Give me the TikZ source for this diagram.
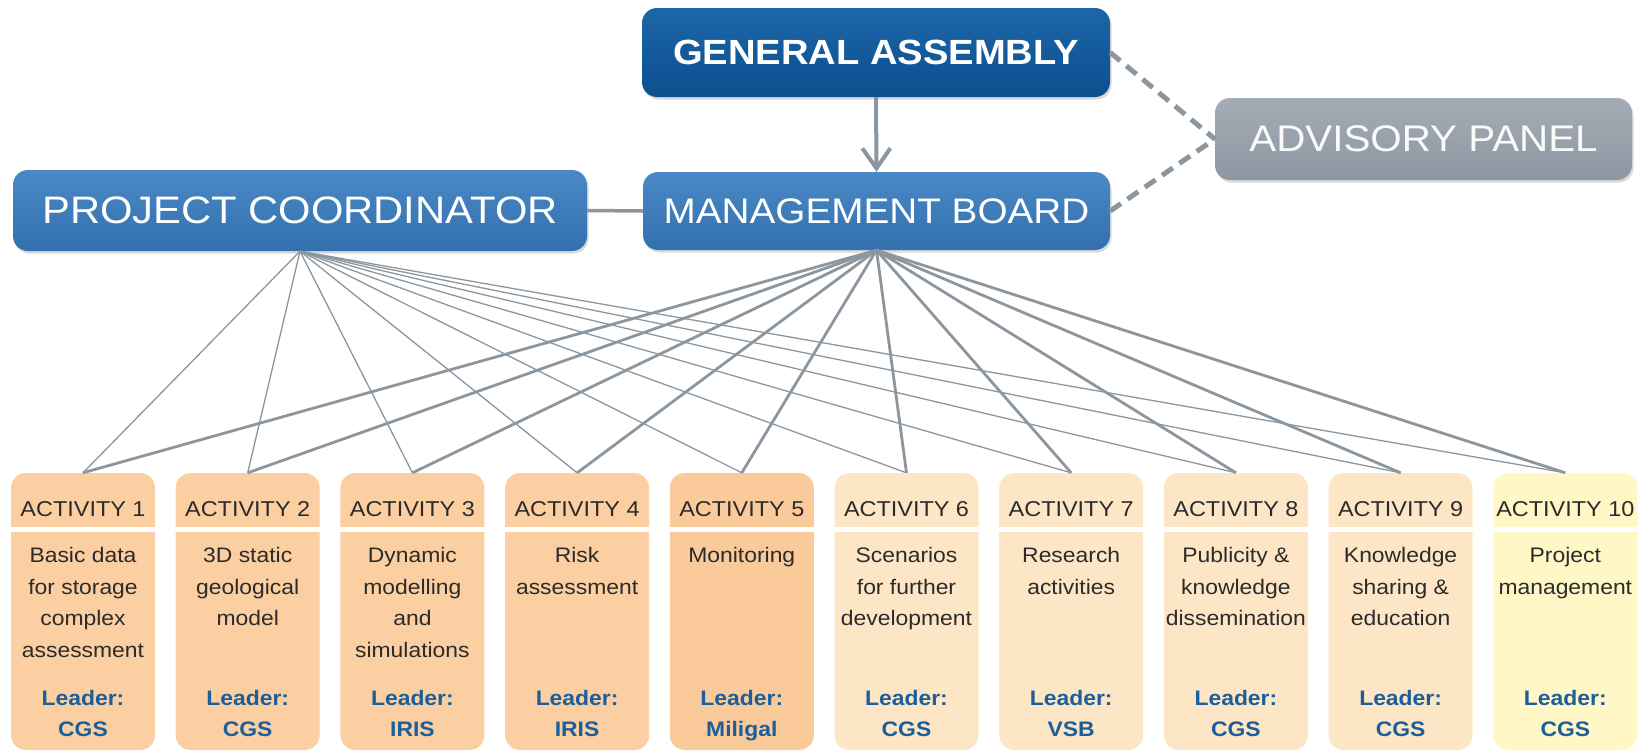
\documentclass[tikz,border=0pt]{standalone}
\usepackage{fontspec}
\setmainfont{Liberation Sans}[FakeStretch=1.09]
\usetikzlibrary{arrows.meta,shadows}

\definecolor{gaTop}{HTML}{1D66A8}
\definecolor{gaBot}{HTML}{0B4F8E}
\definecolor{mbTop}{HTML}{4A89C5}
\definecolor{mbBot}{HTML}{3370AE}
\definecolor{apTop}{HTML}{A4ADB6}
\definecolor{apBot}{HTML}{8D97A1}
\definecolor{link}{HTML}{8C969F}
\definecolor{peach}{HTML}{FBCFA2}
\definecolor{peachDeep}{HTML}{FACA9A}
\definecolor{cream}{HTML}{FDE6C5}
\definecolor{paleYellow}{HTML}{FFF7C6}
\definecolor{leaderBlue}{HTML}{1A5F9C}
\definecolor{ink}{HTML}{2B2B2B}

\tikzset{
  orgbox/.style={rounded corners=15pt, inner sep=0pt, text=white,
    drop shadow={opacity=0.3, shadow xshift=1.5pt, shadow yshift=-2.5pt}},
  gabox/.style={orgbox, top color=gaTop, bottom color=gaBot,
    minimum width=468pt, minimum height=89pt,
    font=\fontsize{35}{40}\selectfont\bfseries},
  mbbox/.style={orgbox, top color=mbTop, bottom color=mbBot,
    minimum width=467pt, minimum height=78pt,
    font=\fontsize{35.5}{40}\selectfont},
  pcbox/.style={orgbox, top color=mbTop, bottom color=mbBot,
    minimum width=574pt, minimum height=81pt,
    font=\fontsize{38.3}{40}\selectfont},
  apbox/.style={orgbox, top color=apTop, bottom color=apBot,
    minimum width=417pt, minimum height=82pt, text=white!94!apTop,
    font=\fontsize{37}{40}\selectfont},
  actbox/.style={rounded corners=15pt, inner sep=0pt,
    minimum width=144pt, minimum height=277pt},
  headtext/.style={anchor=base, inner sep=0pt, text=ink,
    font=\fontsize{21.5}{25}\selectfont},
  bodytext/.style={anchor=north, inner sep=0pt, align=center, text=ink,
    font=\fontsize{21}{31.7}\selectfont},
  leadertext/.style={anchor=north, inner sep=0pt, align=center, text=leaderBlue,
    font=\fontsize{21}{31.5}\selectfont\bfseries},
  pcline/.style={draw=link, line width=1.3pt},
  mbline/.style={draw=link, line width=2.8pt},
  solidlink/.style={draw=link, line width=3.5pt},
  downarrow/.style={draw=link, line width=4pt,
    -{Straight Barb[length=20pt,width=28pt]}},
  dashlink/.style={draw=link, line width=5pt, dash pattern=on 13pt off 8pt},
}

\begin{document}
\begin{tikzpicture}[x=1pt, y=-1pt]
  \useasboundingbox (0,0) rectangle (1647,753);

  % governing bodies
  \node[gabox] (ga) at (876,52.5) {GENERAL ASSEMBLY};
  \node[mbbox] (mb) at (876.5,211) {MANAGEMENT BOARD};
  \node[pcbox] (pc) at (300,210.5) {PROJECT COORDINATOR};
  \node[apbox] (ap) at (1423.5,139) {ADVISORY PANEL};

  % links between the governing bodies
  \draw[downarrow] (ga.south) -- (mb.north);
  \draw[solidlink] (pc.east) -- (mb.west);
  \draw[dashlink] (ga.east) -- (ap.west);
  \draw[dashlink] (mb.east) -- (ap.west);

  % activity columns
  \foreach \i/\fc/\body/\lead in {
    1/peach/{Basic data\\for storage\\complex\\assessment}/CGS,
    2/peach/{3D static\\geological\\model}/CGS,
    3/peach/{Dynamic\\modelling\\and\\simulations}/IRIS,
    4/peach/{Risk\\assessment}/IRIS,
    5/peachDeep/{Monitoring}/Miligal,
    6/cream/{Scenarios\\for further\\development}/CGS,
    7/cream/{Research\\activities}/VSB,
    8/cream/{Publicity \&\\knowledge\\dissemination}/CGS,
    9/cream/{Knowledge\\sharing \&\\education}/CGS,
    10/paleYellow/{Project\\management}/CGS}
  {
    \pgfmathsetmacro\cx{83+164.7*(\i-1)}
    \node[actbox, fill=\fc] (a\i) at (\cx,611.5) {};
    \fill[white] (\cx-73,527) rectangle (\cx+73,532);
    \node[headtext] (h\i) at (\cx,516) {ACTIVITY \i};
    \node[bodytext] (b\i) at (\cx,547) {\body};
    \node[leadertext] (l\i) at (\cx,690) {Leader:\\\lead};
  }

  % reporting lines to every activity
  \foreach \i in {1,...,10} {
    \draw[pcline] (pc.south) -- (a\i.north);
    \draw[mbline] (mb.south) -- (a\i.north);
  }
\end{tikzpicture}
\end{document}
